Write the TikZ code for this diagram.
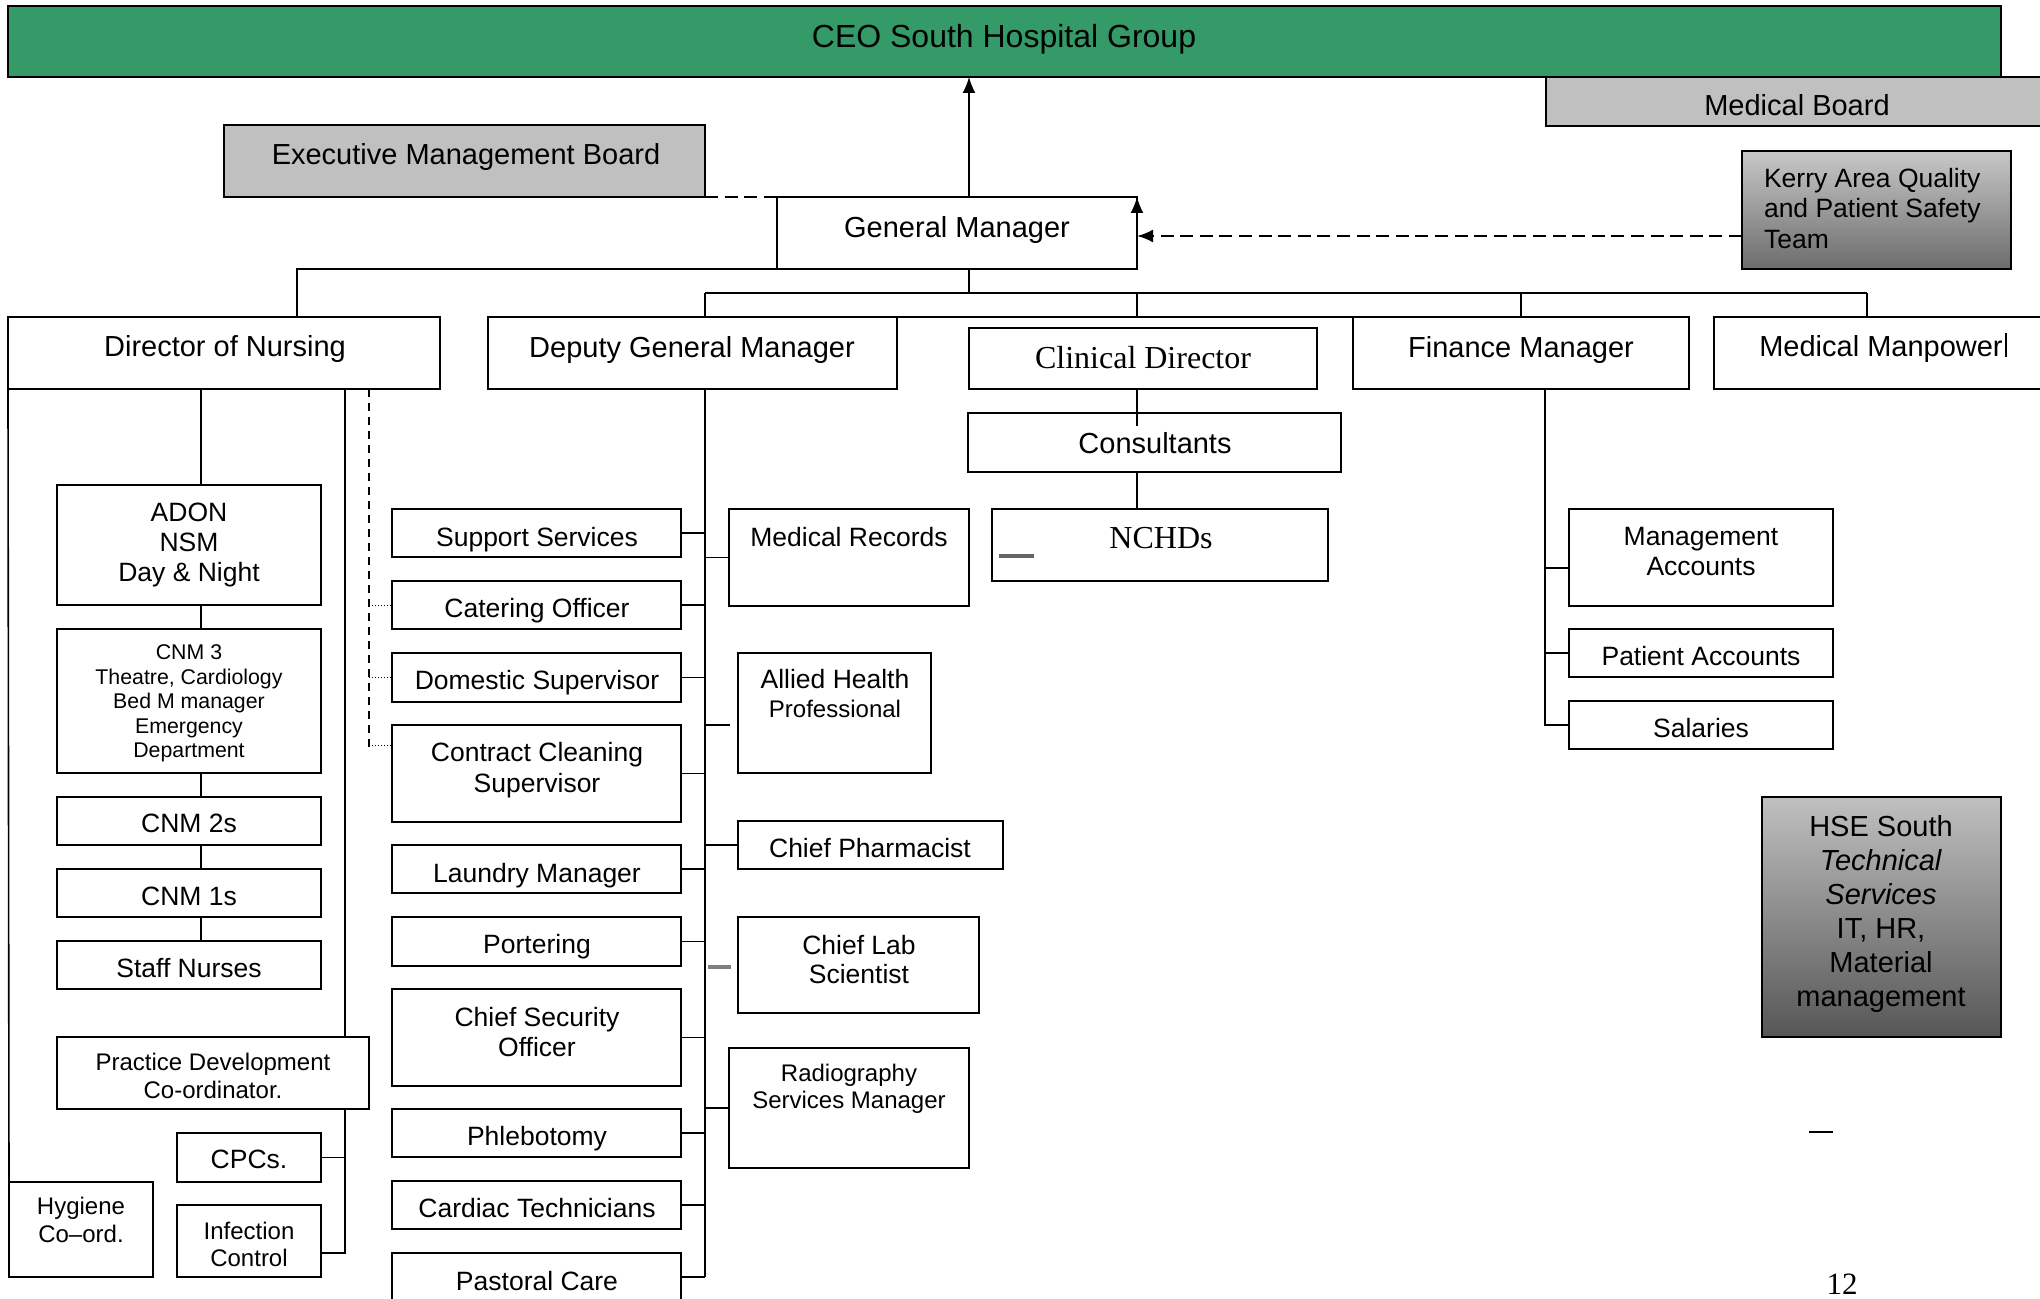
\documentclass[tikz,border=0pt]{standalone}
\usepackage{fontspec}
\setmainfont{Liberation Sans}
\newfontfamily\tnr{Liberation Serif}
\usetikzlibrary{fit,arrows.meta}
\definecolor{ceogreen}{RGB}{52,155,104}
\definecolor{boardgray}{RGB}{192,192,192}
\begin{document}
\begin{tikzpicture}[x=0.5pt,y=-0.5pt,
  box/.style={draw=black, line width=1pt, inner sep=0pt, outer sep=0pt},
  lbl/.style={inner sep=0pt, outer sep=0pt, anchor=north, align=center, text=black},
  fCEO/.style={font={\fontsize{16pt}{19pt}\selectfont}},
  fA/.style={font={\fontsize{14.5pt}{17pt}\selectfont}},
  fB/.style={font={\fontsize{13.25pt}{15pt}\selectfont}},
  fC/.style={font={\fontsize{12pt}{14pt}\selectfont}},
  fD/.style={font={\fontsize{10.65pt}{12.25pt}\selectfont}},
  fS/.style={font={\tnr\fontsize{16pt}{19pt}\selectfont}},
  conn/.style={line width=0.8pt},
  thickdash/.style={line width=1.1pt, dash pattern=on 6.5pt off 3.3pt},
  thindash/.style={line width=0.6pt, dash pattern=on 4pt off 3pt},
  dotstub/.style={line width=0.5pt, densely dotted},
  tip/.style={-{Latex[length=8pt,width=6.5pt]}}
]
\useasboundingbox (0,0) rectangle (2040,1299);
\clip (0,0) rectangle (2040,1299);
\fill[white] (0,0) rectangle (2040,1299);

% ---------- top level ----------
\node[box, fill=ceogreen, fit={(8,6)(2001,77)}] (ceo) {};
\node[lbl, fCEO] (ceo-t) at (1004,24) {CEO South Hospital Group};
\node[box, fill=boardgray, fit={(1546,77)(2050,126)}] (medb) {};
\node[lbl, fA] (medb-t) at (1797,94) {Medical Board};
\node[box, fill=boardgray, fit={(224,125)(705,197)}] (emb) {};
\node[lbl, fA] (emb-t) at (466,143) {Executive Management Board};
\node[box, fit={(777,197)(1137,269)}] (gm) {};
\node[lbl, fA] (gm-t) at (957,216) {General Manager};
\node[box, top color={rgb,255:red,200;green,200;blue,200}, bottom color={rgb,255:red,108;green,108;blue,108}, fit={(1742,151)(2011,269)}] (kerry) {};
\node[lbl, anchor=north west, align=left, font={\fontsize{13.25pt}{15.25pt}\selectfont}] (kerry-t) at (1764,168) {Kerry Area Quality\\and Patient Safety\\Team};

% ---------- second level ----------
\node[box, fit={(8,317)(440,389)}] (don) {};
\node[lbl, fA] (don-t) at (225,335) {Director of Nursing};
\node[box, fit={(488,317)(897,389)}] (dgm) {};
\node[lbl, fA] (dgm-t) at (692,336) {Deputy General Manager};
\node[box, fit={(969,328)(1317,389)}] (cd) {};
\node[lbl, fS] (cd-t) at (1143,346) {Clinical Director};
\node[box, fit={(1353,317)(1689,389)}] (fm) {};
\node[lbl, fA] (fm-t) at (1521,336) {Finance Manager};
\node[box, fit={(1714,317)(2050,389)}] (mm) {};
\node[lbl, fA] (mm-t) at (1881,335) {Medical Manpower};
\draw[line width=0.6pt] (2006,333) -- (2006,357);

% ---------- clinical ----------
\node[box, fit={(968,413)(1341,472)}] (cons) {};
\node[lbl, fA] (cons-t) at (1155,432) {Consultants};
\node[box, fit={(992,509)(1328,581)}] (nchd) {};
\node[lbl, fS] (nchd-t) at (1161,527) {NCHDs};
\draw[line width=1.6pt, gray!80!black] (999,556) -- (1034,556);

% ---------- nursing ----------
\node[box, fit={(57,485)(321,605)}] (adon) {};
\node[lbl, fB] (adon-t) at (189,503) {ADON\\NSM\\Day \& Night};
\node[box, fit={(57,629)(321,773)}] (cnm3) {};
\node[lbl, fD] (cnm3-t) at (189,645) {CNM 3\\Theatre, Cardiology\\Bed M manager\\Emergency\\Department};
\node[box, fit={(57,797)(321,845)}] (cnm2) {};
\node[lbl, fB] (cnm2-t) at (189,814) {CNM 2s};
\node[box, fit={(57,869)(321,917)}] (cnm1) {};
\node[lbl, fB] (cnm1-t) at (189,887) {CNM 1s};
\node[box, fit={(57,941)(321,989)}] (staff) {};
\node[lbl, fB] (staff-t) at (189,958) {Staff Nurses};
\node[box, fit={(57,1037)(369,1109)}] (pd) {};
\node[lbl, font={\fontsize{12pt}{14.25pt}\selectfont}] (pd-t) at (213,1053) {Practice Development\\Co-ordinator.};
\node[box, fit={(177,1133)(321,1182)}] (cpc) {};
\node[lbl, fB] (cpc-t) at (249,1150) {CPCs.};
\node[box, fit={(9,1182)(153,1277)}] (hyg) {};
\node[lbl, fC] (hyg-t) at (81,1197) {Hygiene\\Co--ord.};
\node[box, fit={(177,1205)(321,1277)}] (inf) {};
\node[lbl, font={\fontsize{12pt}{13.5pt}\selectfont}] (inf-t) at (249,1222) {Infection\\Control};

% ---------- DGM left column ----------
\node[box, fit={(392,509)(681,557)}] (sup) {};
\node[lbl, fB] (sup-t) at (537,527) {Support Services};
\node[box, fit={(392,581)(681,629)}] (cat) {};
\node[lbl, fB] (cat-t) at (537,598) {Catering Officer};
\node[box, fit={(392,653)(681,702)}] (dom) {};
\node[lbl, fB] (dom-t) at (537,670) {Domestic Supervisor};
\node[box, fit={(392,725)(681,822)}] (con) {};
\node[lbl, font={\fontsize{13.25pt}{15.5pt}\selectfont}] (con-t) at (537,742) {Contract Cleaning\\Supervisor};
\node[box, fit={(392,845)(681,893)}] (lau) {};
\node[lbl, fB] (lau-t) at (537,863) {Laundry Manager};
\node[box, fit={(392,917)(681,966)}] (por) {};
\node[lbl, fB] (por-t) at (537,934) {Portering};
\node[box, fit={(392,989)(681,1086)}] (cso) {};
\node[lbl, fB] (cso-t) at (537,1007) {Chief Security\\Officer};
\node[box, fit={(392,1109)(681,1157)}] (phl) {};
\node[lbl, fB] (phl-t) at (537,1126) {Phlebotomy};
\node[box, fit={(392,1181)(681,1229)}] (car) {};
\node[lbl, fB] (car-t) at (537,1198) {Cardiac Technicians};
\node[box, fit={(392,1253)(681,1301)}] (pas) {};
\node[lbl, fB] (pas-t) at (537,1271) {Pastoral Care};

% ---------- DGM right column ----------
\node[box, fit={(729,509)(969,606)}] (mr) {};
\node[lbl, fB] (mr-t) at (849,527) {Medical Records};
\node[box, fit={(738,653)(931,773)}] (ahp) {};
\node[lbl, font={\fontsize{13.25pt}{14.5pt}\selectfont}] (ahp-t) at (835,669) {Allied Health\\{\fontsize{12pt}{14.5pt}\selectfont Professional}};
\node[box, fit={(738,821)(1003,869)}] (cph) {};
\node[lbl, fB] (cph-t) at (870,838) {Chief Pharmacist};
\node[box, fit={(738,917)(979,1013)}] (cls) {};
\node[lbl, font={\fontsize{13.25pt}{14.5pt}\selectfont}] (cls-t) at (859,935) {Chief Lab\\Scientist};
\node[box, fit={(729,1048)(969,1168)}] (rad) {};
\node[lbl, font={\fontsize{12pt}{13.5pt}\selectfont}] (rad-t) at (849,1064) {Radiography\\Services Manager};

% ---------- finance ----------
\node[box, fit={(1569,509)(1833,606)}] (mac) {};
\node[lbl, fB] (mac-t) at (1701,527) {Management\\Accounts};
\node[box, fit={(1569,629)(1833,677)}] (pac) {};
\node[lbl, fB] (pac-t) at (1701,646) {Patient Accounts};
\node[box, fit={(1569,701)(1833,749)}] (sal) {};
\node[lbl, fB] (sal-t) at (1701,718) {Salaries};

% ---------- HSE ----------
\node[box, top color={rgb,255:red,192;green,192;blue,192}, bottom color={rgb,255:red,86;green,86;blue,86}, fit={(1762,797)(2001,1037)}] (hse) {};
\node[lbl, font={\fontsize{14.5pt}{17pt}\selectfont}] (hse-t) at (1881,815) {HSE South\\\textit{Technical}\\\textit{Services}\\IT, HR,\\Material\\management};
\draw[line width=0.8pt] (1809,1132) -- (1833,1132);
\node[lbl, font={\tnr\fontsize{15.5pt}{18pt}\selectfont}] (page) at (1842,1274) {12};

% ---------- connectors: top ----------
\coordinate (xgm) at (969,0);
\coordinate (bus) at (705,293);
\coordinate (busE) at (1867,293);
\coordinate (xcd) at (1137,0);
\coordinate (xdon) at (297,0);
\coordinate (ky) at (0,236);
\coordinate (consin) at (1137,426);
\draw[conn, tip] (gm.north -| xgm) -- (ceo.south -| xgm);
\draw[conn] (gm.south -| xgm) -- (bus -| xgm);
\draw[conn] (bus) -- (busE);
\draw[conn] (bus) -- (dgm.north -| bus);
\draw[conn] (bus -| xcd) -- (dgm.north -| xcd);
\draw[conn] (bus -| fm.north) -- (fm.north);
\draw[conn] (busE) -- (mm.north -| busE);
\draw[conn] (dgm.north east) -- (fm.north west);
\draw[conn] (cd.south -| xcd) -- (consin);
\draw[conn] (cons.south -| xcd) -- (nchd.north -| xcd);
\draw[conn] (don.north -| xdon) |- (gm.south west);
\draw[thickdash] (emb.south east) -- (gm.north west);
\draw[thickdash, tip] (kerry.west |- ky) -- (gm.east |- ky);
\draw[conn, tip] (gm.east) -- (gm.north east);

% ---------- connectors: nursing ----------
\coordinate (xa) at (201,0);
\coordinate (xb) at (345,0);
\coordinate (infy) at (0,1253);
\coordinate (dashend) at (369,748);
\coordinate (conS) at (369,745);
\draw[conn] (don.south -| xa) -- (adon.north -| xa);
\draw[conn] (adon.south -| xa) -- (cnm3.north -| xa);
\draw[conn] (cnm3.south -| xa) -- (cnm2.north -| xa);
\draw[conn] (cnm2.south -| xa) -- (cnm1.north -| xa);
\draw[conn] (cnm1.south -| xa) -- (staff.north -| xa);
\draw[conn] (don.south -| xb) -- (pd.north -| xb);
\draw[conn] (pd.south -| xb) -- (xb |- infy) -- (inf.east |- infy);
\draw[conn] (cpc.east) -- (cpc.east -| xb);
\draw[conn] (don.south west) -- (hyg.north west);
\draw[thindash] (don.south -| dashend) -- (dashend);
\draw[dotstub] (cat.west -| dashend) -- (cat.west);
\draw[dotstub] (dom.west -| dashend) -- (dom.west);
\draw[dotstub] (conS) -- (conS -| con.west);

% ---------- connectors: DGM ----------
\coordinate (xd) at (705,0);
\coordinate (dend) at (705,1277);
\coordinate (ahpS) at (730,725);
\coordinate (clsS) at (731,967);
\draw[conn] (dgm.south -| xd) -- (dend);
\foreach \n in {sup,cat,dom,con,lau,por,cso,phl,car,pas}
  \draw[conn] (\n.east) -- (\n.east -| xd);
\foreach \n in {mr,cph,rad}
  \draw[conn] (\n.west) -- (\n.west -| xd);
\draw[conn] (ahpS -| xd) -- (ahpS);
\draw[line width=1.8pt, gray] ([xshift=1.5pt]clsS -| xd) -- (clsS);

% ---------- connectors: finance ----------
\coordinate (xf) at (1545,0);
\coordinate (macS) at (0,568);
\draw[conn] (fm.south -| xf) -- (sal.west -| xf) -- (sal.west);
\draw[conn] (xf |- macS) -- (mac.west |- macS);
\draw[conn] (pac.west -| xf) -- (pac.west);
\end{tikzpicture}
\end{document}
